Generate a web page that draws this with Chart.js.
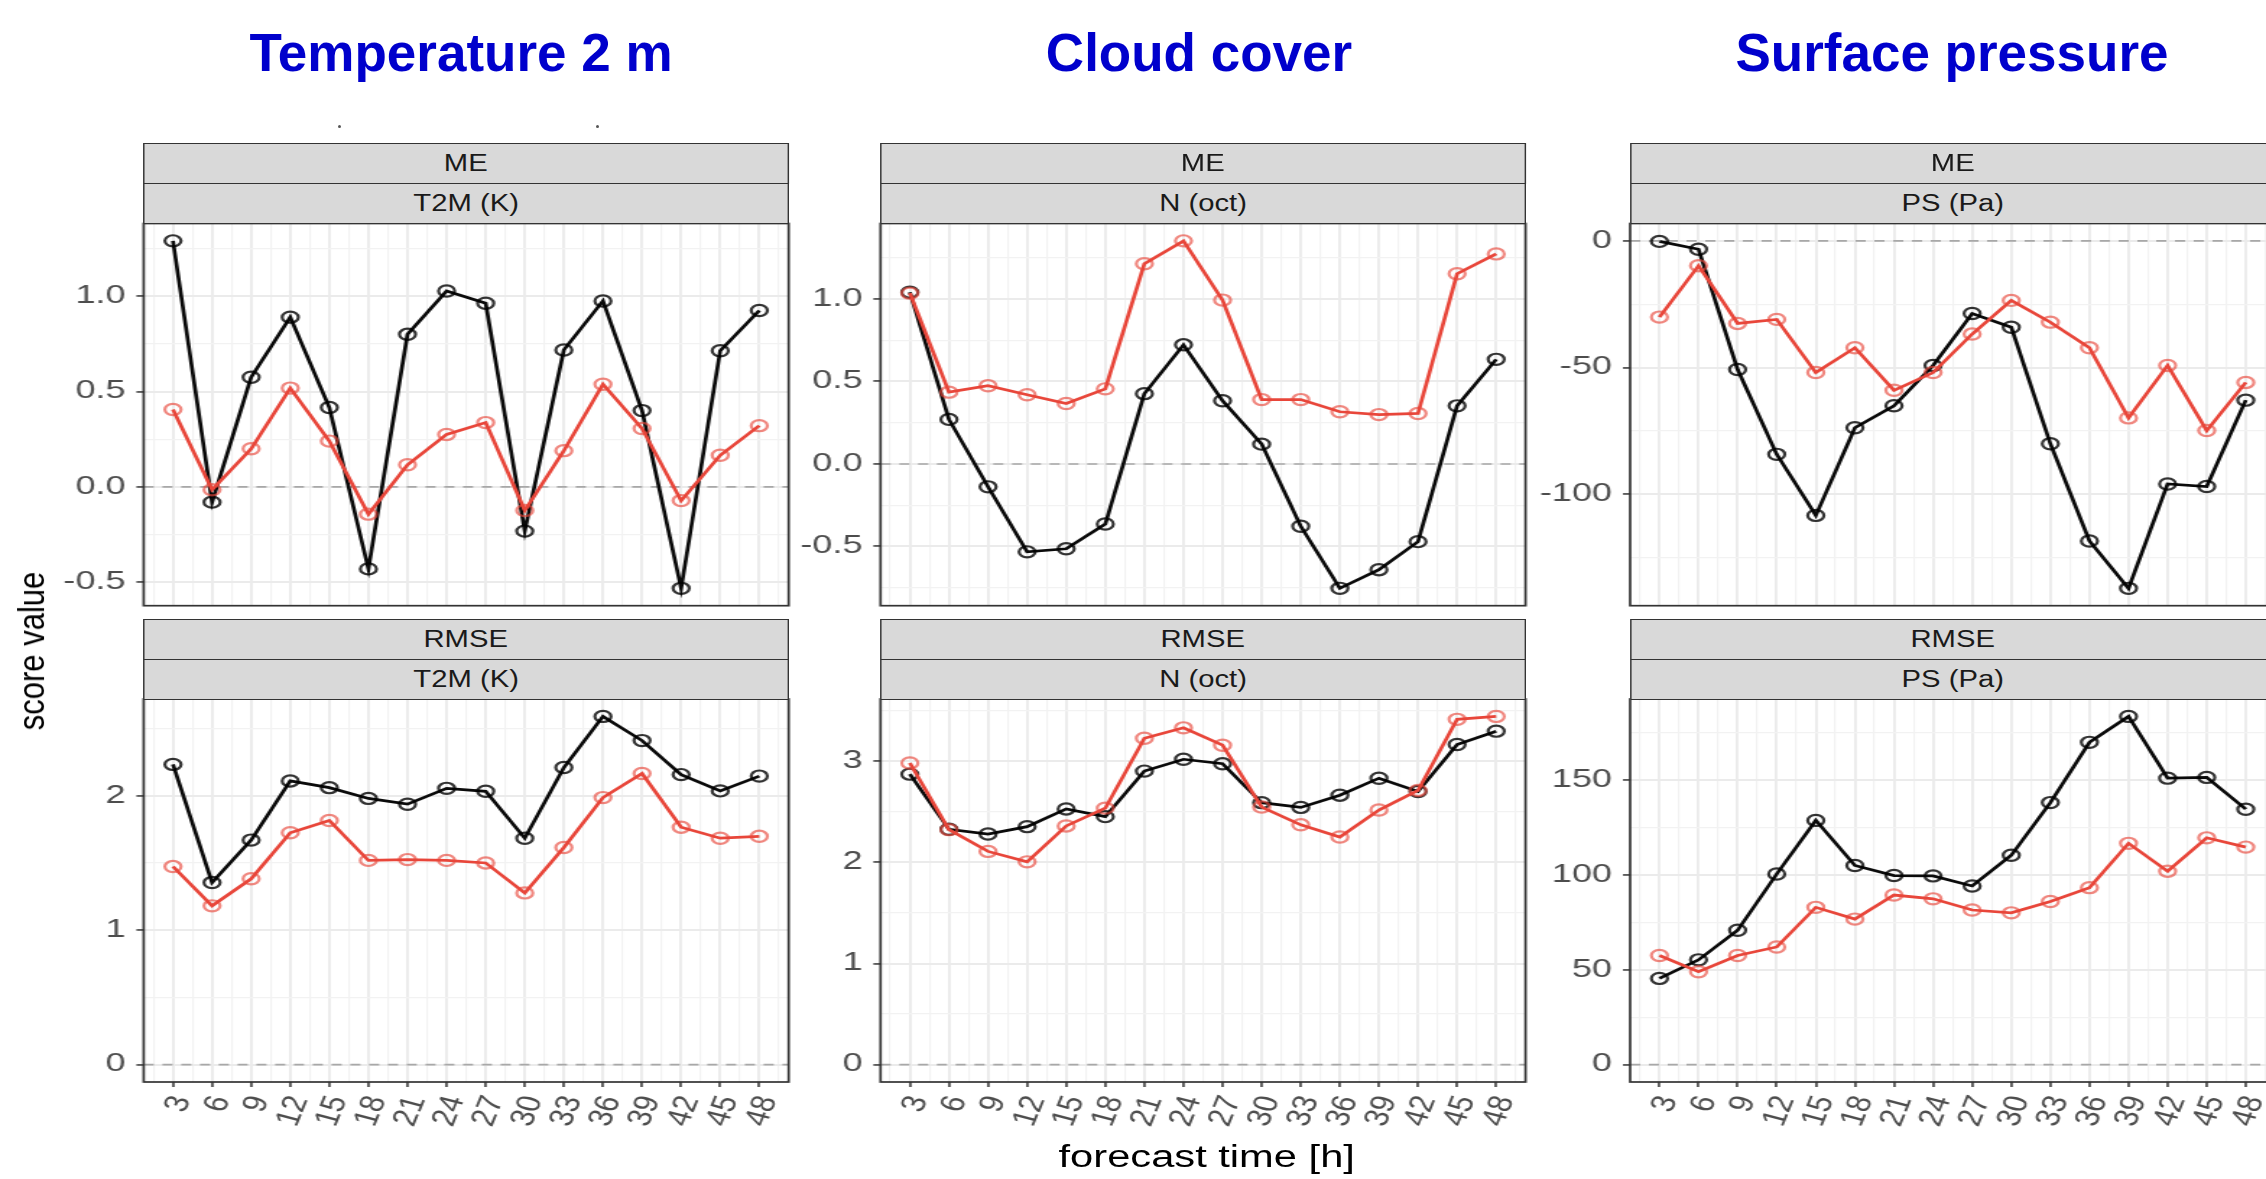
<!DOCTYPE html>
<html>
<head>
<meta charset="utf-8">
<title>Verification scores by forecast time</title>
<script src="https://cdn.jsdelivr.net/npm/chart.js@4.4.1/dist/chart.umd.min.js"></script>
<style>
  html, body { margin:0; padding:0; background:#fff; width:2266px; height:1179px; overflow:hidden; }
  #stage { position:absolute; left:0; top:0; width:1620px; height:1179px;
           transform:scaleX(1.445153); transform-origin:0 0;
           font-family:'Liberation Sans', Arial, sans-serif; }
  #stage canvas { position:absolute; }
  .strip { position:absolute; box-sizing:border-box; background:#d9d9d9; border:1.6px solid #333;
           color:#1a1a1a; font-size:23px; line-height:1; display:flex; align-items:center;
           justify-content:center; white-space:nowrap; }
  .strip span { display:inline-block; transform:scaleX(0.88); }
  .axis-title { position:absolute; color:#000; font-size:31px; line-height:31px; white-space:nowrap; }
  .col-title { position:absolute; top:26px; font:bold 53px/53px 'Liberation Sans', Arial, sans-serif;
               color:#0000cc; white-space:nowrap; transform:translateX(-50%); }
  .speck { position:absolute; width:3px; height:3px; border-radius:50%; background:#555; }
</style>
</head>
<body>
<div id="stage"></div>
<div class="col-title" style="left:461px">Temperature 2 m</div>
<div class="col-title" style="left:1199px">Cloud cover</div>
<div class="col-title" style="left:1952px">Surface pressure</div>
<div class="speck" style="left:338px;top:125px"></div>
<div class="speck" style="left:596px;top:125px"></div>
<script>
// ---- data -------------------------------------------------------------
const leadTimes = [3, 6, 9, 12, 15, 18, 21, 24, 27, 30, 33, 36, 39, 42, 45, 48];
const xTickLabels = ['3', '6', '9', '12', '15', '18', '21', '24', '27', '30', '33', '36', '39', '42', '45', '48'];

// Temperature 2 m
const t2mMeBlack   = [1.29, -0.08, 0.575, 0.89, 0.416, -0.43, 0.80, 1.027, 0.963, -0.232, 0.718, 0.975, 0.40, -0.532, 0.714, 0.925];
const t2mMeRed     = [0.406, -0.015, 0.20, 0.518, 0.24, -0.143, 0.116, 0.275, 0.337, -0.124, 0.19, 0.538, 0.306, -0.072, 0.166, 0.321];
const t2mRmseBlack = [2.233, 1.354, 1.67, 2.11, 2.06, 1.98, 1.937, 2.055, 2.033, 1.684, 2.21, 2.59, 2.41, 2.157, 2.036, 2.146];
const t2mRmseRed   = [1.473, 1.181, 1.382, 1.725, 1.816, 1.519, 1.525, 1.519, 1.50, 1.277, 1.615, 1.986, 2.165, 1.766, 1.684, 1.698];

// Cloud cover
const nMeBlack   = [1.041, 0.27, -0.139, -0.533, -0.514, -0.364, 0.426, 0.722, 0.383, 0.12, -0.378, -0.754, -0.641, -0.471, 0.352, 0.634];
const nMeRed     = [1.035, 0.435, 0.474, 0.419, 0.366, 0.455, 1.213, 1.352, 0.993, 0.39, 0.39, 0.316, 0.299, 0.306, 1.153, 1.273];
const nRmseBlack = [2.872, 2.327, 2.28, 2.353, 2.528, 2.452, 2.902, 3.019, 2.975, 2.59, 2.543, 2.664, 2.832, 2.70, 3.165, 3.297];
const nRmseRed   = [2.982, 2.323, 2.108, 2.005, 2.36, 2.536, 3.227, 3.33, 3.158, 2.547, 2.371, 2.25, 2.517, 2.711, 3.414, 3.443];

// Surface pressure
const psMeBlack   = [-0.2, -3.3, -50.8, -84.3, -108.4, -73.8, -65.1, -49.2, -28.7, -34.1, -80.1, -118.5, -137.2, -96, -97, -62.9];
const psMeRed     = [-30.1, -9.8, -32.6, -31, -52, -42.2, -59, -52, -36.8, -23.5, -32.1, -42.2, -69.9, -49.2, -74.9, -55.9];
const psRmseBlack = [45.5, 55.3, 70.9, 100.6, 128.9, 105.1, 99.8, 99.6, 94.3, 110.5, 138.3, 170.1, 183.8, 151.2, 151.6, 134.8];
const psRmseRed   = [57.6, 49, 57.6, 62.1, 83, 76.8, 89.5, 87.5, 81.6, 80.1, 86.1, 93.4, 116.8, 102.1, 119.7, 114.8];

// y tick labels per panel
const t2mMeTicks   = ['-0.5', '0.0', '0.5', '1.0'];
const t2mRmseTicks = ['0', '1', '2'];
const nMeTicks     = ['-0.5', '0.0', '0.5', '1.0'];
const nRmseTicks   = ['0', '1', '2', '3'];
const psMeTicks    = ['-100', '-50', '0'];
const psRmseTicks  = ['0', '50', '100', '150'];

const scoreNames = ['ME', 'RMSE'];
const paramNames = ['T2M (K)', 'N (oct)', 'PS (Pa)'];

// ---- layout (unstretched page units) ----------------------------------
const colLeft = [99.4, 609.3, 1128.0];
const plotW = 446.3;
const rowTop = [223.5, 699.0];
const plotH = [382.2, 383.0];
const YW = 92, XH = 64, PAD = 26;

// rotated lead-time labels
const X_ROT = 72, X_FONT = 27, X_SQUASH = 0.88, X_DX = 6, X_DY = 15;

const RED = '#e8463a', RED_PT = 'rgba(232,70,58,0.65)';
const BLACK = '#0a0a0a', BLACK_PT = 'rgba(0,0,0,0.8)';
const GRID_MAJOR = '#ebebeb', GRID_MINOR = '#f2f2f2';
const FONT_FAMILY = "'Liberation Sans', Arial, sans-serif";

Chart.defaults.font.family = FONT_FAMILY;

const panels = [
  { col: 0, row: 0, black: t2mMeBlack,   red: t2mMeRed,   ticks: t2mMeTicks },
  { col: 0, row: 1, black: t2mRmseBlack, red: t2mRmseRed, ticks: t2mRmseTicks },
  { col: 1, row: 0, black: nMeBlack,     red: nMeRed,     ticks: nMeTicks },
  { col: 1, row: 1, black: nRmseBlack,   red: nRmseRed,   ticks: nRmseTicks },
  { col: 2, row: 0, black: psMeBlack,    red: psMeRed,    ticks: psMeTicks },
  { col: 2, row: 1, black: psRmseBlack,  red: psRmseRed,  ticks: psRmseTicks }
];

// continuous x axis with 5 % expansion, breaks every 3 h, minor breaks halfway
const xSpan = leadTimes[leadTimes.length - 1] - leadTimes[0];
const xMin = leadTimes[0] - 0.05 * xSpan;
const xMax = leadTimes[leadTimes.length - 1] + 0.05 * xSpan;
function xTickObjects() {
  const step = leadTimes[1] - leadTimes[0];
  const out = [];
  const minors = [leadTimes[0] - step / 2].concat(leadTimes.map(v => v + step / 2));
  minors.filter(v => v >= xMin && v <= xMax).forEach(v => out.push({ value: v, minor: true, text: '' }));
  leadTimes.forEach((v, i) => out.push({ value: v, minor: false, text: xTickLabels[i] }));
  return out.sort((a, b) => a.value - b.value);
}

function yTickObjects(labels, lo, hi) {
  const majors = labels.map(Number);
  const step = majors[1] - majors[0];
  const out = labels.map((t, i) => ({ value: majors[i], minor: false, text: t }));
  const minors = [majors[0] - step / 2].concat(majors.map(v => v + step / 2));
  minors.filter(v => v >= lo && v <= hi).forEach(v => out.push({ value: v, minor: true, text: '' }));
  return out.sort((a, b) => a.value - b.value);
}

const isMinor = c => !!(c.tick && c.tick.minor);
function gridOptions(drawTicks) {
  return {
    color: c => isMinor(c) ? GRID_MINOR : GRID_MAJOR,
    lineWidth: c => isMinor(c) ? 1.2 : 1.9,
    drawTicks: drawTicks,
    tickLength: 5,
    tickColor: c => isMinor(c) ? 'rgba(0,0,0,0)' : '#333333',
    tickWidth: 1.5
  };
}

// dashed zero reference line, panel frame and rotated lead-time labels
const panelDecor = {
  id: 'panelDecor',
  beforeDatasetsDraw(chart) {
    const { ctx, chartArea: a, scales } = chart;
    const y0 = scales.y.getPixelForValue(0);
    ctx.save();
    ctx.beginPath(); ctx.rect(a.left, a.top, a.width, a.height); ctx.clip();
    ctx.setLineDash([7, 6]);
    ctx.strokeStyle = '#a8a8a8';
    ctx.lineWidth = 1.6;
    ctx.beginPath(); ctx.moveTo(a.left, y0); ctx.lineTo(a.right, y0); ctx.stroke();
    ctx.restore();
  },
  afterDraw(chart, args, opts) {
    const { ctx, chartArea: a, scales } = chart;
    ctx.save();
    ctx.strokeStyle = '#333333';
    ctx.lineWidth = 1.7;
    ctx.strokeRect(a.left, a.top, a.width, a.height);
    ctx.restore();

    if (!opts.xLabels) return;
    const x = scales.x;
    ctx.save();
    ctx.fillStyle = '#4d4d4d';
    ctx.font = X_FONT + 'px ' + FONT_FAMILY;
    ctx.textAlign = 'right';
    ctx.textBaseline = 'middle';
    x.ticks.forEach(t => {
      if (t.minor) return;
      ctx.save();
      ctx.translate(x.getPixelForValue(t.value) + X_DX, a.bottom + X_DY);
      ctx.scale(X_SQUASH, 1);
      ctx.rotate(-X_ROT * Math.PI / 180);
      ctx.fillText(t.text, 0, 0);
      ctx.restore();
    });
    ctx.restore();
  }
};

const stage = document.getElementById('stage');

function addStrip(text, left, top, height) {
  const d = document.createElement('div');
  d.className = 'strip';
  d.style.left = left + 'px';
  d.style.top = top + 'px';
  d.style.width = plotW + 'px';
  d.style.height = height + 'px';
  const s = document.createElement('span');
  s.textContent = text;
  d.appendChild(s);
  stage.appendChild(d);
}

function buildPanel(p) {
  const showX = p.row === 1;
  const left = colLeft[p.col], top = rowTop[p.row], h = plotH[p.row];

  // canvas placed so that the plotting area lands at (left, top)
  const cx = Math.floor(left - YW - PAD);
  const cy = Math.floor(top - PAD);
  const padL = left - YW - cx;
  const padT = top - cy;
  const cw = Math.ceil(padL + YW + plotW + PAD);
  const ch = Math.ceil(padT + h + (showX ? XH : 0) + PAD);
  const padR = cw - padL - YW - plotW;
  const padB = ch - padT - h - (showX ? XH : 0);

  const cv = document.createElement('canvas');
  cv.width = cw; cv.height = ch;
  cv.style.left = cx + 'px'; cv.style.top = cy + 'px';
  stage.appendChild(cv);

  const all = p.black.concat(p.red, [0]);
  const lo = Math.min(...all), hi = Math.max(...all);
  const yMin = lo - 0.05 * (hi - lo), yMax = hi + 0.05 * (hi - lo);
  const yTicks = yTickObjects(p.ticks, yMin, yMax);
  const xTicks = xTickObjects();

  const seriesStyle = (line, ring) => ({
    borderColor: line, borderWidth: 2.7,
    pointRadius: 5.6, pointHoverRadius: 5.6, pointBorderWidth: 2.2,
    pointBorderColor: ring, pointBackgroundColor: 'rgba(0,0,0,0)',
    tension: 0, fill: false
  });

  new Chart(cv, {
    type: 'line',
    data: {
      datasets: [
        Object.assign({ label: 'red run', data: leadTimes.map((x, i) => ({ x: x, y: p.red[i] })) }, seriesStyle(RED, RED_PT)),
        Object.assign({ label: 'black run', data: leadTimes.map((x, i) => ({ x: x, y: p.black[i] })) }, seriesStyle(BLACK, BLACK_PT))
      ]
    },
    options: {
      responsive: false,
      animation: false,
      devicePixelRatio: 1,
      events: [],
      layout: { padding: { left: padL, right: padR, top: padT, bottom: padB } },
      plugins: {
        legend: { display: false },
        tooltip: { enabled: false },
        panelDecor: { xLabels: showX }
      },
      scales: {
        x: {
          type: 'linear', min: xMin, max: xMax,
          afterBuildTicks: s => { s.ticks = xTicks.map(t => Object.assign({}, t)); },
          afterFit: s => { s.height = showX ? XH : 0; },
          border: { display: false },
          grid: gridOptions(showX),
          ticks: { display: false, autoSkip: false }
        },
        y: {
          type: 'linear', min: yMin, max: yMax,
          afterBuildTicks: s => { s.ticks = yTicks.map(t => Object.assign({}, t)); },
          afterFit: s => { s.width = YW; },
          border: { display: false },
          grid: gridOptions(true),
          ticks: {
            autoSkip: false, padding: 7.5,
            color: '#4d4d4d', font: { size: 25 },
            callback: (v, i, t) => t[i].text
          }
        }
      }
    },
    plugins: [panelDecor]
  });

  addStrip(scoreNames[p.row], left, top - 80.4, 41.2);
  addStrip(paramNames[p.col], left, top - 40.4, 41.2);
}

panels.forEach(buildPanel);

// shared axis titles
const yTitle = document.createElement('div');
yTitle.className = 'axis-title';
yTitle.textContent = 'score value';
yTitle.style.left = '21.5px';
yTitle.style.top = '651px';
yTitle.style.transform = 'translate(-50%, -50%) rotate(-90deg) scaleY(0.82)';
stage.appendChild(yTitle);

const xTitle = document.createElement('div');
xTitle.className = 'axis-title';
xTitle.textContent = 'forecast time [h]';
xTitle.style.left = '835px';
xTitle.style.top = '1141px';
xTitle.style.transform = 'translateX(-50%) scaleX(0.93)';
stage.appendChild(xTitle);
</script>
</body>
</html>
